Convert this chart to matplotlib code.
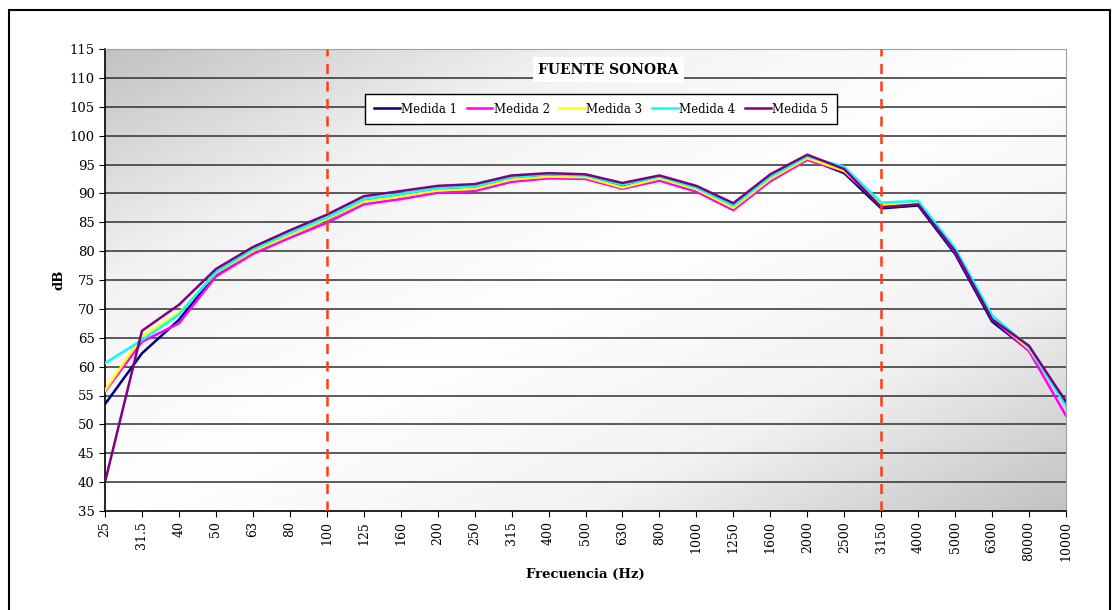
import numpy as np
import matplotlib
matplotlib.use("Agg")
import matplotlib.pyplot as plt
from matplotlib.patches import Rectangle
from matplotlib.colors import LinearSegmentedColormap

# bandas de frecuencia (tal cual aparecen en el eje)
freqs = ["25", "31.5", "40", "50", "63", "80", "100", "125", "160", "200", "250",
         "315", "400", "500", "630", "800", "1000", "1250", "1600", "2000", "2500",
         "3150", "4000", "5000", "6300", "80000", "10000"]

medida1 = [53.5, 62.3, 68.1, 76.0, 80.0, 82.9, 85.4, 88.7, 89.6, 90.6, 90.9, 92.5, 93.0, 92.8,
           91.2, 92.7, 90.8, 87.7, 92.6, 96.0, 93.5, 87.4, 87.9, 79.5, 67.8, 62.8, 54.0]
medida2 = [55.7, 64.3, 67.5, 75.6, 79.5, 82.3, 84.9, 88.1, 89.0, 90.1, 90.4, 92.0, 92.6, 92.5,
           90.8, 92.2, 90.3, 87.1, 92.1, 95.8, 93.8, 88.0, 88.3, 79.9, 68.3, 62.7, 51.5]
medida3 = [55.9, 65.2, 69.3, 76.2, 80.0, 82.8, 85.5, 88.6, 89.5, 90.5, 90.8, 92.4, 92.9, 92.8,
           91.0, 92.6, 90.7, 87.5, 92.5, 96.1, 93.9, 88.0, 88.4, 80.1, 68.5, 63.1, 53.5]
medida4 = [60.6, 64.6, 69.0, 76.4, 80.3, 83.2, 85.8, 89.0, 89.9, 90.9, 91.2, 92.8, 93.3, 93.1,
           91.5, 92.9, 91.0, 87.9, 92.9, 96.4, 94.6, 88.4, 88.7, 80.5, 68.9, 63.4, 53.2]
medida5 = [40.0, 66.2, 70.7, 76.9, 80.7, 83.6, 86.3, 89.5, 90.4, 91.3, 91.6, 93.1, 93.5, 93.3,
           91.8, 93.1, 91.3, 88.3, 93.3, 96.7, 94.2, 87.6, 88.1, 80.0, 68.2, 63.6, 53.9]

series = [medida1, medida2, medida3, medida4, medida5]
nombres = ["Medida 1", "Medida 2", "Medida 3", "Medida 4", "Medida 5"]
colores = ["#000080", "#ff00ff", "#ffff00", "#00ffff", "#800080"]

# limites marcados con linea discontinua
limites = ["100", "3150"]

plt.rcParams['font.family'] = ['DejaVu Serif']

fig = plt.figure(figsize=(11.19, 6.10), dpi=100)
ax = fig.add_axes([105 / 1119, 1 - 511 / 610, 961 / 1119, 462 / 610])

# fondo degradado del area de trazado
u = np.linspace(0, 1, 300)
v = np.linspace(0, 1, 200)
U, V = np.meshgrid(u, v)
d = np.abs((U + V) / 2 - 0.5) * 2
cmap = LinearSegmentedColormap.from_list("fondo", ["#ffffff", "#f2f2f2", "#c2c2c2"])
ax.imshow(d, cmap=cmap, extent=[0, 1, 0, 1], transform=ax.transAxes,
          aspect='auto', zorder=0, vmin=0, vmax=1)

x = np.arange(len(freqs))
for s, nom, c in zip(series, nombres, colores):
    ax.plot(x, s, color=c, lw=1.8, label=nom, zorder=3)

for lim in limites:
    ax.axvline(freqs.index(lim), color="#ff3c14", lw=1.8, ls=(0, (4, 3)), zorder=4)

ax.set_xlim(0, len(freqs) - 1)
ax.set_ylim(35, 115)
ax.set_yticks(np.arange(35, 116, 5))
ax.set_xticks(x)
ax.set_xticklabels(freqs, rotation=90, fontsize=9)
ax.tick_params(axis='y', labelsize=9.5, length=4, direction='out')
ax.tick_params(axis='x', length=4, direction='out')

for yv in np.arange(40, 115, 5):
    ax.axhline(yv, color="#303030", lw=1.1, zorder=1)

ax.spines['top'].set_color("#a0a0a0")
ax.spines['right'].set_color("#a0a0a0")
ax.spines['left'].set_linewidth(1.2)
ax.spines['bottom'].set_linewidth(1.2)

ax.set_xlabel("Frecuencia (Hz)", fontweight='bold', fontsize=9.5, labelpad=5)
ax.set_ylabel("dB", fontweight='bold', fontsize=9.5, labelpad=3)

ax.text(0.524, 0.955, "FUENTE SONORA", transform=ax.transAxes, ha='center', va='center',
        fontsize=10, fontweight='bold', zorder=5,
        bbox=dict(facecolor='white', edgecolor='none', pad=4))

leg = ax.legend(loc='center', bbox_to_anchor=(0.516, 0.870), ncol=5, fontsize=8.5,
                frameon=True, fancybox=False, framealpha=1, edgecolor='black',
                handlelength=2.2, handletextpad=0.1, columnspacing=0.8,
                borderpad=0.75)
leg.get_frame().set_linewidth(1.0)
leg.set_zorder(6)

# borde exterior del grafico
fig.patches.append(Rectangle((9 / 1119, -0.05), 1101 / 1119, 1.05 - 10 / 610,
                             transform=fig.transFigure, fill=False,
                             edgecolor='black', lw=1.5))

fig.savefig("out.png", dpi=100)
